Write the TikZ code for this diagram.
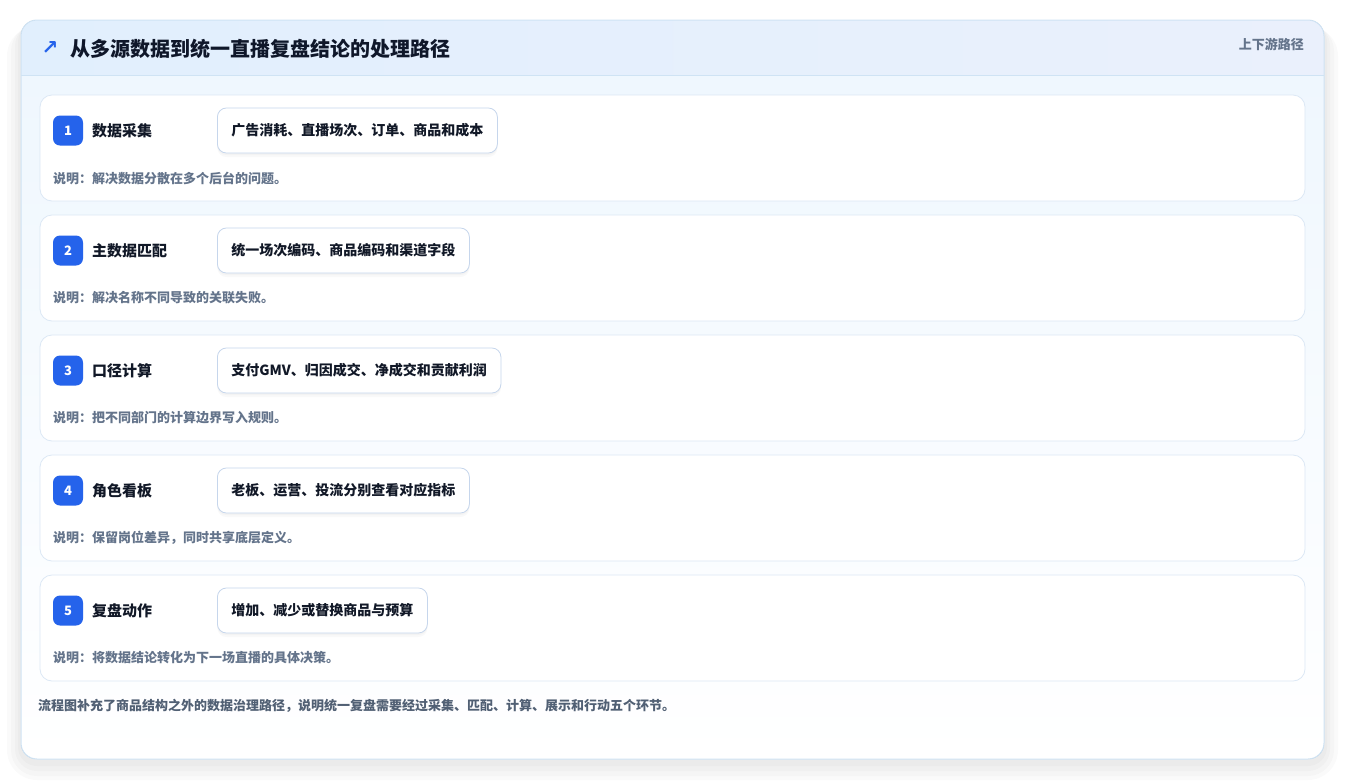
\documentclass[tikz,border=0pt]{standalone}
\usepackage{fontspec}
\setmainfont{Noto Sans CJK SC}
\newfontfamily\symfont{DejaVu Sans}

\definecolor{cardline}{HTML}{CFE3F4}
\definecolor{rowline}{HTML}{DCE8F5}
\definecolor{pillline}{HTML}{C6D6EC}
\definecolor{badgeblue}{HTML}{2563EB}
\definecolor{titleink}{HTML}{0F172A}
\definecolor{labelink}{HTML}{111827}
\definecolor{noteink}{HTML}{64748B}
\definecolor{footink}{HTML}{516074}
\definecolor{bodytop}{HTML}{EFF7FE}
\definecolor{headleft}{HTML}{E1EFFD}
\definecolor{headright}{HTML}{EAF0FC}

\begin{document}
\begin{tikzpicture}[x=1pt,y=-1pt,
    rowcard/.style={draw=rowline,fill=white,rounded corners=12pt,line width=0.8pt,
      minimum width=1265pt,minimum height=106pt,inner sep=0pt},
    badge/.style={fill=badgeblue,rounded corners=7pt,minimum size=30pt,inner sep=0pt,
      text=white,font=\fontsize{13}{15}\selectfont\bfseries},
    steplabel/.style={anchor=west,inner sep=0pt,text=labelink,
      font=\fontsize{15}{17}\selectfont\bfseries},
    pill/.style={anchor=west,draw=pillline,fill=white,rounded corners=9pt,line width=0.8pt,
      minimum height=45pt,inner xsep=14pt,inner ysep=0pt,text=labelink,
      font=\fontsize{14}{16}\selectfont\bfseries,
      preaction={fill=black,opacity=0.025,transform canvas={yshift=-4pt}},
      preaction={fill=black,opacity=0.025,transform canvas={yshift=-2pt}}},
    note/.style={anchor=west,inner sep=0pt,text=noteink,
      font=\fontsize{13}{15}\selectfont\bfseries}]
  \useasboundingbox (0,0) rectangle (1345,780);
  \fill[white] (0,0) rectangle (1345,780);

  % outer card
  \fill[black,opacity=0.018,rounded corners=30pt] (7,26) rectangle (1338,780);
  \fill[black,opacity=0.018,rounded corners=26pt] (11,25) rectangle (1334,776);
  \fill[black,opacity=0.02,rounded corners=22pt] (15,24) rectangle (1330,771);
  \fill[black,opacity=0.02,rounded corners=19pt] (18,23) rectangle (1327,766);
  \begin{scope}
    \clip[rounded corners=16pt] (21,20) rectangle (1324,759);
    \fill[top color=bodytop,bottom color=white] (21,75) rectangle (1324,759);
    \fill[left color=headleft,right color=headright] (21,20) rectangle (1324,75);
    \draw[draw=cardline,line width=0.8pt] (21,75) -- (1324,75);
  \end{scope}
  \draw[draw=cardline,line width=1pt,rounded corners=16pt] (21,20) rectangle (1324,759);

  % header
  \node[text=badgeblue,inner sep=0pt,font=\symfont\bfseries\fontsize{20}{20}\selectfont] (icon) at (50,48) {↗};
  \node[anchor=west,inner sep=0pt,text=titleink,font=\fontsize{20}{22}\selectfont\bfseries]
    (title) at (70,49) {从多源数据到统一直播复盘结论的处理路径};
  \node[anchor=east,inner sep=0pt,text=noteink,font=\fontsize{13}{15}\selectfont\bfseries]
    (scope) at (1304,44) {上下游路径};

  % step 1
  \node[rowcard] (row1) at (672.5,148) {};
  \node[badge] (badge1) at (68,130.5) {1};
  \node[steplabel] (name1) at (92,130.5) {数据采集};
  \node[pill] (tag1) at (217,130.5) {广告消耗、直播场次、订单、商品和成本};
  \node[note] (note1) at (53,178) {说明：解决数据分散在多个后台的问题。};

  % step 2
  \node[rowcard] (row2) at (672.5,268) {};
  \node[badge] (badge2) at (68,250.5) {2};
  \node[steplabel] (name2) at (92,250.5) {主数据匹配};
  \node[pill] (tag2) at (217,250.5) {统一场次编码、商品编码和渠道字段};
  \node[note] (note2) at (53,298) {说明：解决名称不同导致的关联失败。};

  % step 3
  \node[rowcard] (row3) at (672.5,388) {};
  \node[badge] (badge3) at (68,370.5) {3};
  \node[steplabel] (name3) at (92,370.5) {口径计算};
  \node[pill] (tag3) at (217,370.5) {支付GMV、归因成交、净成交和贡献利润};
  \node[note] (note3) at (53,418) {说明：把不同部门的计算边界写入规则。};

  % step 4
  \node[rowcard] (row4) at (672.5,508) {};
  \node[badge] (badge4) at (68,490.5) {4};
  \node[steplabel] (name4) at (92,490.5) {角色看板};
  \node[pill] (tag4) at (217,490.5) {老板、运营、投流分别查看对应指标};
  \node[note] (note4) at (53,538) {说明：保留岗位差异，同时共享底层定义。};

  % step 5
  \node[rowcard] (row5) at (672.5,628) {};
  \node[badge] (badge5) at (68,610.5) {5};
  \node[steplabel] (name5) at (92,610.5) {复盘动作};
  \node[pill] (tag5) at (217,610.5) {增加、减少或替换商品与预算};
  \node[note] (note5) at (53,658) {说明：将数据结论转化为下一场直播的具体决策。};

  % footer
  \node[anchor=west,inner sep=0pt,text=footink,font=\fontsize{13}{15}\selectfont\bfseries]
    (summary) at (38,706) {流程图补充了商品结构之外的数据治理路径，说明统一复盘需要经过采集、匹配、计算、展示和行动五个环节。};
\end{tikzpicture}
\end{document}
